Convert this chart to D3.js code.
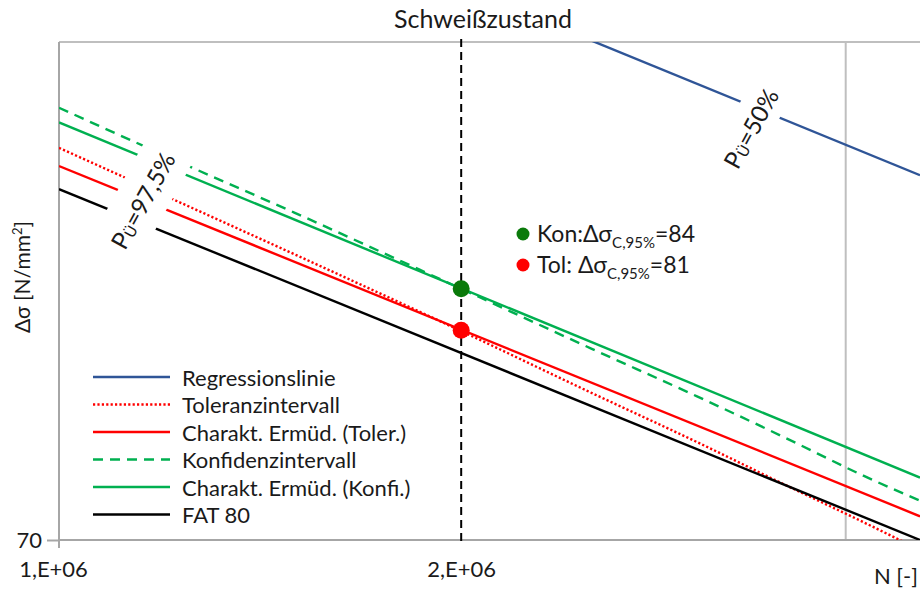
<!DOCTYPE html>
<html>
<head>
<meta charset="utf-8">
<script src="https://cdn.jsdelivr.net/npm/d3@7"></script>
<style>
  html, body { margin: 0; padding: 0; background: #fff; }
  svg { display: block; }
  text { font-family: Lato, "Open Sans", sans-serif; fill: #1a1a1a; }
</style>
</head>
<body>
<svg id="chart" width="920" height="589"></svg>
<script>
// ---------------- data ----------------
const title = "Schweißzustand";
const xTickValues = [1e6, 2e6];
const xTickLabels = ["1,E+06", "2,E+06"];
const yTickValues = [70];
const yTickLabels = ["70"];
const gridN = [3.88e6];

const regN = [2.0e6, 4.41e6];
const regS = [104.0, 90.9];

const tolN = [1.0e6, 1.25e6, 1.5e6, 2.0e6, 2.5e6, 3.0e6, 3.5e6, 4.0e6, 4.41e6];
const tolS = [92.7, 88.9, 85.9, 81.3, 77.8, 75.1, 72.8, 70.9, 69.5];

const charTolN = [1.0e6, 4.41e6];
const charTolS = [91.5, 71.2];

const konfN = [1.0e6, 1.25e6, 1.5e6, 2.0e6, 2.5e6, 3.0e6, 3.5e6, 4.0e6, 4.41e6];
const konfS = [95.4, 91.5, 88.5, 83.8, 80.3, 77.6, 75.3, 73.3, 72.0];

const charKonfN = [1.0e6, 4.41e6];
const charKonfS = [94.4, 73.2];

const fatN = [1.0e6, 4.41e6];
const fatS = [90.0, 70.0];

const markerN = [2e6, 2e6];
const markerS = [83.8, 81.35];

const legendLabels = ["Regressionslinie", "Toleranzintervall", "Charakt. Ermüd. (Toler.)",
                      "Konfidenzintervall", "Charakt. Ermüd. (Konfi.)", "FAT 80"];

// ---------------- layout ----------------
const L = 59, R = 920, T = 42, B = 540;
const svg = d3.select("#chart");
const x = d3.scaleLog().domain([1e6, 4.41e6]).range([L, R]);
const y = d3.scaleLog().domain([70, 100]).range([B, T]);

const zip = (a, b) => a.map((v, i) => [v, b[i]]);
const series = [
  { key: "reg",  pts: zip(regN, regS),           color: "#2f5597", dash: null,  curve: d3.curveLinear },
  { key: "tol",  pts: zip(tolN, tolS),           color: "#ff0000", dash: "2.2,2.2", curve: d3.curveMonotoneX },
  { key: "ctol", pts: zip(charTolN, charTolS),   color: "#ff0000", dash: null,  curve: d3.curveLinear },
  { key: "konf", pts: zip(konfN, konfS),         color: "#00b050", dash: "10,7", curve: d3.curveMonotoneX },
  { key: "ckon", pts: zip(charKonfN, charKonfS), color: "#00b050", dash: null,  curve: d3.curveLinear },
  { key: "fat",  pts: zip(fatN, fatS),           color: "#000000", dash: null,  curve: d3.curveLinear }
];

svg.append("defs").append("clipPath").attr("id", "plotclip")
  .append("rect").attr("x", L).attr("y", T).attr("width", R - L).attr("height", B - T);

// grid / frame
svg.append("line").attr("x1", L).attr("x2", R).attr("y1", T).attr("y2", T)
  .attr("stroke", "#bfbfbf").attr("stroke-width", 2);
svg.selectAll(".grid").data(gridN).enter().append("line")
  .attr("x1", d => x(d)).attr("x2", d => x(d)).attr("y1", T).attr("y2", B)
  .attr("stroke", "#bfbfbf").attr("stroke-width", 2);

// axes
const xAxis = d3.axisBottom(x).tickValues(xTickValues).tickFormat((d, i) => xTickLabels[i]).tickSize(0);
const gx = svg.append("g").attr("transform", `translate(0,${B})`).call(xAxis);
gx.select(".domain").remove();
gx.selectAll("text").attr("font-size", 22).attr("dy", "1.55em").style("font-family", "Lato, sans-serif").attr("fill", "#1a1a1a");
gx.selectAll(".tick").filter((d, i) => i === 0).select("text").attr("dx", -6);

const yAxis = d3.axisLeft(y).tickValues(yTickValues).tickFormat((d, i) => yTickLabels[i]).tickSize(12).tickPadding(5);
const gy = svg.append("g").attr("transform", `translate(${L},0)`).call(yAxis);
gy.select(".domain").remove();
gy.selectAll("line").attr("stroke", "#a6a6a6").attr("stroke-width", 2);
gy.selectAll("text").attr("font-size", 22).style("font-family", "Lato, sans-serif").attr("fill", "#1a1a1a");

svg.append("line").attr("x1", L).attr("x2", L).attr("y1", T).attr("y2", B + 8)
  .attr("stroke", "#a6a6a6").attr("stroke-width", 2);
svg.append("line").attr("x1", L).attr("x2", R).attr("y1", B).attr("y2", B)
  .attr("stroke", "#a6a6a6").attr("stroke-width", 2);

// series
const plot = svg.append("g").attr("clip-path", "url(#plotclip)");
series.forEach(s => {
  const line = d3.line().x(d => x(d[0])).y(d => y(d[1])).curve(s.curve);
  plot.append("path").datum(s.pts)
    .attr("d", line).attr("fill", "none")
    .attr("stroke", s.color).attr("stroke-width", 2.4)
    .attr("stroke-dasharray", s.dash);
});

// rotated probability labels with white boxes
function probLabel(cx, cy, x0, x1, h, main) {
  const g = svg.append("g").attr("transform", `translate(${cx},${cy}) rotate(-61)`);
  g.append("rect").attr("x", x0).attr("y", -h / 2).attr("width", x1 - x0).attr("height", h).attr("fill", "#fff");
  const t = g.append("text").attr("text-anchor", "middle").attr("dominant-baseline", "central")
    .attr("font-size", 24).attr("fill", "#262626");
  t.append("tspan").text("P");
  t.append("tspan").text("Ü").attr("font-size", 15).attr("dy", 5);
  t.append("tspan").text(main).attr("dy", -5);
}
probLabel(142, 200, -60, 66, 52, "=97,5%");
probLabel(750, 128, -42, 62, 42, "=50%");

// vertical dashed reference line at 2e6
svg.append("line").attr("x1", x(2e6)).attr("x2", x(2e6)).attr("y1", T - 3).attr("y2", B + 6)
  .attr("stroke", "#000").attr("stroke-width", 2).attr("stroke-dasharray", "8,5");

// markers
const markerColors = ["#0a7a0a", "#ff0000"];
svg.selectAll(".mk").data(zip(markerN, markerS)).enter().append("circle")
  .attr("cx", d => x(d[0])).attr("cy", d => y(d[1])).attr("r", 8.5)
  .attr("fill", (d, i) => markerColors[i]);

// annotation
const annY = [234, 265];
const annPre = ["Kon:Δσ", "Tol: Δσ"];
const annSub = ["C,95%", "C,95%"];
const annVal = ["=84", "=81"];
annY.forEach((yy, i) => {
  svg.append("circle").attr("cx", 523).attr("cy", yy).attr("r", 6.5).attr("fill", markerColors[i]);
  const t = svg.append("text").attr("x", 537).attr("y", yy + 8).attr("font-size", 23);
  t.append("tspan").text(annPre[i]);
  t.append("tspan").text(annSub[i]).attr("font-size", 15).attr("dy", 6);
  t.append("tspan").text(annVal[i]).attr("dy", -6);
});

// legend
const legStyles = series;
const lg = svg.append("g");
legendLabels.forEach((lab, i) => {
  const yy = 377 + i * 27.5;
  lg.append("line").attr("x1", 93).attr("x2", 170).attr("y1", yy).attr("y2", yy)
    .attr("stroke", legStyles[i].color).attr("stroke-width", 2.4)
    .attr("stroke-dasharray", legStyles[i].dash);
  lg.append("text").attr("x", 182).attr("y", yy).attr("dominant-baseline", "central")
    .attr("font-size", 22).text(lab);
});

// title
svg.append("text").attr("x", 483).attr("y", 28).attr("text-anchor", "middle")
  .attr("font-size", 25).text(title);

// axis titles
const yt = svg.append("text").attr("transform", "translate(30,277) rotate(-90)")
  .attr("text-anchor", "middle").attr("font-size", 21);
yt.append("tspan").text("Δσ  [N/mm");
yt.append("tspan").text("2").attr("font-size", 13).attr("dy", -8);
yt.append("tspan").text("]").attr("dy", 8);

svg.append("text").attr("x", 918).attr("y", 584).attr("text-anchor", "end")
  .attr("font-size", 22).text("N [-]");
</script>
</body>
</html>
